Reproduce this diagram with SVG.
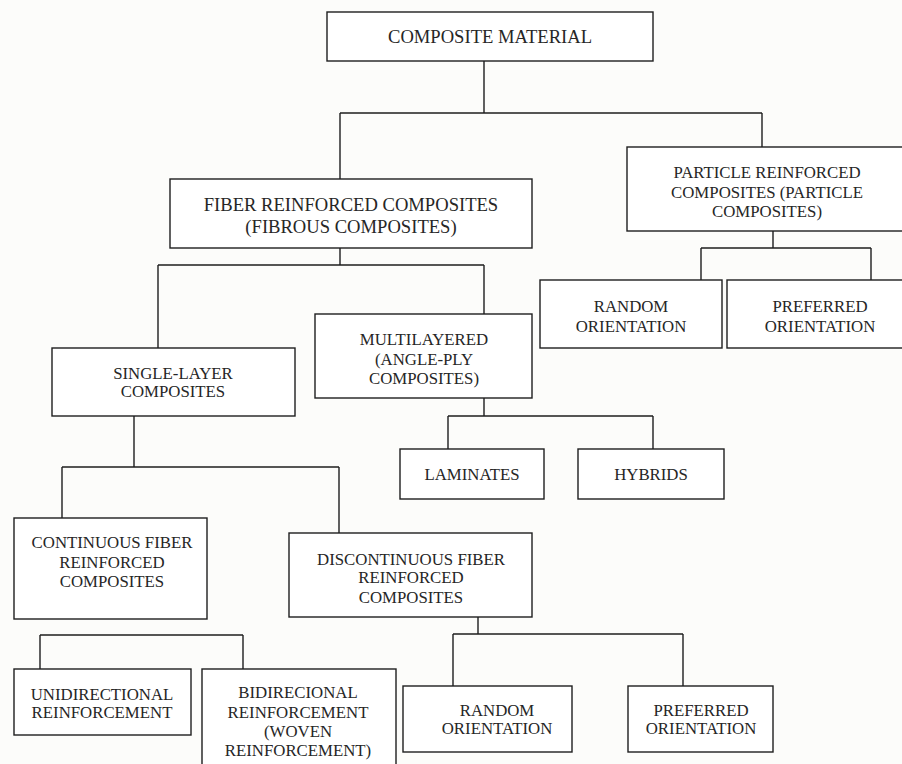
<svg xmlns="http://www.w3.org/2000/svg" width="902" height="764" viewBox="0 0 902 764">
<style>
.box{fill:#ffffff;stroke:#1e1e1e;stroke-width:1.4}
.c{fill:none;stroke:#1e1e1e;stroke-width:1.4}
text{font-family:"Liberation Serif","Times New Roman",serif;font-size:16.8px;fill:#262626;text-anchor:middle}
.big{font-size:18.6px}
</style>
<rect width="902" height="764" fill="#fcfcfa"/>
<g id="connectors">
<path class="c" d="M484,61V113M340,113H762M340,113V179M762,113V147"/>
<path class="c" d="M340,248V265M158,265H484M158,265V348M484,265V314"/>
<path class="c" d="M773,231V248M701,248H871M701,248V280M871,248V280"/>
<path class="c" d="M484,398V416M448,416H653M448,416V449M653,416V449"/>
<path class="c" d="M134,416V467M62,467H339M62,467V518M339,467V533"/>
<path class="c" d="M40,635H243M40,635V669M243,635V669"/>
<path class="c" d="M478,617V634M453,634H683M453,634V686M683,634V686"/>
</g>
<g id="composite-material">
<rect class="box" x="327" y="12" width="326" height="49"/>
<text class="big" x="490" y="43">COMPOSITE MATERIAL</text>
</g>
<g id="fiber-reinforced">
<rect class="box" x="170" y="179" width="362" height="69"/>
<text class="big" x="351" y="211">FIBER REINFORCED COMPOSITES</text>
<text class="big" x="351" y="233">(FIBROUS COMPOSITES)</text>
</g>
<g id="particle-reinforced">
<rect class="box" x="627" y="147" width="290" height="84"/>
<text x="767" y="178">PARTICLE REINFORCED</text>
<text x="767" y="198">COMPOSITES (PARTICLE</text>
<text x="767" y="217">COMPOSITES)</text>
</g>
<g id="random-orientation-particle">
<rect class="box" x="540" y="280" width="182" height="68"/>
<text x="631" y="312">RANDOM</text>
<text x="631" y="332">ORIENTATION</text>
</g>
<g id="preferred-orientation-particle">
<rect class="box" x="727" y="280" width="190" height="68"/>
<text x="820" y="312">PREFERRED</text>
<text x="820" y="332">ORIENTATION</text>
</g>
<g id="multilayered">
<rect class="box" x="315" y="314" width="217" height="84"/>
<text x="424" y="345">MULTILAYERED</text>
<text x="424" y="365">(ANGLE-PLY</text>
<text x="424" y="384">COMPOSITES)</text>
</g>
<g id="single-layer">
<rect class="box" x="52" y="348" width="243" height="68"/>
<text x="173" y="379">SINGLE-LAYER</text>
<text x="173" y="397">COMPOSITES</text>
</g>
<g id="laminates">
<rect class="box" x="400" y="449" width="144" height="50"/>
<text x="472" y="480">LAMINATES</text>
</g>
<g id="hybrids">
<rect class="box" x="578" y="449" width="146" height="50"/>
<text x="651" y="480">HYBRIDS</text>
</g>
<g id="continuous-fiber">
<rect class="box" x="14" y="518" width="193" height="101"/>
<text x="112" y="548">CONTINUOUS FIBER</text>
<text x="112" y="568">REINFORCED</text>
<text x="112" y="587">COMPOSITES</text>
</g>
<g id="discontinuous-fiber">
<rect class="box" x="289" y="533" width="243" height="84"/>
<text x="411" y="565">DISCONTINUOUS FIBER</text>
<text x="411" y="583">REINFORCED</text>
<text x="411" y="603">COMPOSITES</text>
</g>
<g id="unidirectional">
<rect class="box" x="14" y="669" width="177" height="66"/>
<text x="102" y="700">UNIDIRECTIONAL</text>
<text x="102" y="718">REINFORCEMENT</text>
</g>
<g id="bidirectional">
<rect class="box" x="202" y="669" width="194" height="110"/>
<text x="298" y="698">BIDIRECIONAL</text>
<text x="298" y="718">REINFORCEMENT</text>
<text x="298" y="737">(WOVEN</text>
<text x="298" y="756">REINFORCEMENT)</text>
</g>
<g id="random-orientation-discontinuous">
<rect class="box" x="403" y="686" width="169" height="66"/>
<text x="497" y="716">RANDOM</text>
<text x="497" y="734">ORIENTATION</text>
</g>
<g id="preferred-orientation-discontinuous">
<rect class="box" x="628" y="686" width="145" height="66"/>
<text x="701" y="716">PREFERRED</text>
<text x="701" y="734">ORIENTATION</text>
</g>
</svg>
